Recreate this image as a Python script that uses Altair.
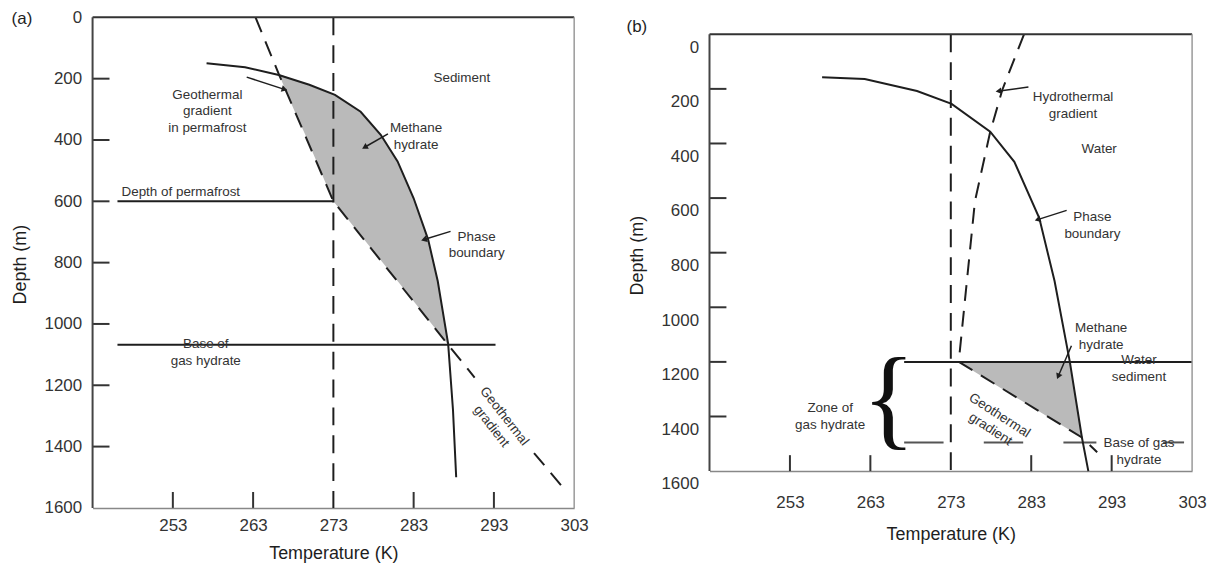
import math
import altair as alt
import pandas as pd

FONT = "Liberation Sans"
INK = "#1e1e1e"
TXT = "#333333"
SHADE = "#bababa"

# ---------------- Panel (a): permafrost ----------------
a_phase_T = [257.2, 262.0, 266.2, 270.0, 273.2, 276.4, 278.9, 281.0, 283.0, 284.8, 286.0, 287.3, 287.9, 288.3]
a_phase_D = [150, 163, 188, 220, 253, 308, 383, 470, 590, 724, 860, 1065, 1280, 1500]
# geothermal gradient, broken where its label sits (segment id in a_geo_S)
a_geo_T = [263.3, 266.2, 273.0, 287.3, 290.6, 298.0, 301.5]
a_geo_D = [0, 185, 600, 1068, 1175, 1421, 1530]
a_geo_S = [0, 0, 0, 0, 0, 1, 1]
a_shade_D = [185, 253, 308, 383, 470, 600, 724, 860, 1068]
a_shade_L = [266.2, 267.3, 268.2, 269.5, 270.9, 273.0, 276.8, 281.0, 287.3]
a_shade_R = [266.2, 273.2, 276.4, 278.9, 281.0, 283.1, 284.8, 286.0, 287.3]
a_hlines_D = [600, 1068]
a_hlines_T1 = [246.1, 246.1]
a_hlines_T2 = [273.0, 293.2]
a_text = [
    (257.3, 253, "Geothermal\ngradient\nin permafrost"),
    (289.0, 198, "Sediment"),
    (283.3, 362, "Methane\nhydrate"),
    (290.85, 716, "Phase\nboundary"),
    (257.1, 1066, "Base of\ngas hydrate"),
]
a_text_left = [(246.6, 571, "Depth of permafrost")]
a_text_rot = [(294.3, 1301, "Geothermal\ngradient")]
a_arrow_tail_T = [262.2, 279.8, 287.6]
a_arrow_tail_D = [195, 380, 698]
a_arrow_head_T = [266.8, 277.0, 284.4]
a_arrow_head_D = [234, 422, 724]

# ---------------- Panel (b): marine ----------------
b_phase_T = [257.0, 262.3, 268.8, 273.1, 277.9, 280.9, 284.0, 285.9, 287.8, 289.3, 290.1]
b_phase_D = [157, 164, 208, 255, 357, 467, 673, 904, 1200, 1477, 1600]
b_hyd_T = [282.1, 279.4, 277.9, 276.0, 275.0, 274.0]
b_hyd_D = [0, 204, 357, 612, 904, 1196]
b_geo_T = [274.0, 289.3, 291.2]
b_geo_D = [1200, 1477, 1531]
b_shade_D = [1200, 1340, 1477]
b_shade_L = [274.0, 281.65, 289.3]
b_shade_R = [287.8, 288.55, 289.3]
b_seafloor = (1200, 267.2, 303.0)
# base of gas hydrate: long dashes (start, end temperatures)
b_base_D = 1495
b_base_T1 = [267.2, 277.1, 287.0, 299.4]
b_base_T2 = [272.1, 282.0, 291.1, 302.0]
b_text = [
    (288.2, 231, "Hydrothermal\ngradient"),
    (291.45, 419, "Water"),
    (290.6, 671, "Phase\nboundary"),
    (291.7, 1077, "Methane\nhydrate"),
    (296.4, 1194, "Water\nsediment"),
    (296.4, 1498, "Base of gas\nhydrate"),
    (258.0, 1370, "Zone of\ngas hydrate"),
]
b_text_rot = [(279.05, 1396, "Geothermal\ngradient")]
b_arrow_tail_T = [282.65, 287.4, 288.0]
b_arrow_tail_D = [193, 645, 1141]
b_arrow_head_T = [279.05, 283.9, 286.4]
b_arrow_head_D = [208, 678, 1250]
b_brace = (265.3, 1345)

x_ticks = [253, 263, 283, 293]
x_labels = [253, 263, 273, 283, 293, 303]
y_ticks = [200, 400, 600, 800, 1000, 1200, 1400]
y_labels = [0, 200, 400, 600, 800, 1000, 1200, 1400, 1600]
T_DOMAIN = [243, 303]


def make_panel(W, H, top, d_min, xlab_pad, xtitle_pad, ylab_offset, title_y, panel_label, lab_xy,
               phase=None, geo=None, hyd=None, shade=None, rules=None, dash_segs=None,
               texts=None, texts_left=None, texts_rot=None, rot_angle=0,
               arrows=None, brace=None):
    d_dom = [d_min, 1600]
    xs = alt.Scale(domain=T_DOMAIN, nice=False, zero=False)
    ys = alt.Scale(domain=d_dom, reverse=True, nice=False, zero=False)
    ax = alt.Axis(values=x_labels, format="d", ticks=False, tickSize=0, labelPadding=xlab_pad,
                  labelFontSize=17, labelFont=FONT, labelColor=TXT, labelFlush=False, labelOverlap=False,
                  title="Temperature (K)", titleFont=FONT, titleFontSize=18, titleFontWeight="normal",
                  titleColor=INK, titlePadding=xtitle_pad, domainColor="#888888", domainWidth=1.5, grid=False)
    ay = alt.Axis(values=y_labels, format="d", ticks=False, tickSize=0, labelPadding=11,
                  labelOffset=ylab_offset, domain=False, titleY=title_y,
                  labelFontSize=17, labelFont=FONT, labelColor=TXT, labelFlush=False, labelOverlap=False,
                  title="Depth (m)", titleFont=FONT, titleFontSize=18, titleFontWeight="normal",
                  titleColor=INK, titlePadding=15, grid=False)

    def X(f):
        return alt.X(f, type="quantitative", scale=xs, axis=ax)

    def Y(f):
        return alt.Y(f, type="quantitative", scale=ys, axis=ay)

    one = pd.DataFrame({"k": [0]})
    layers = []
    if shade:
        D, L, R = shade
        df = pd.DataFrame({"D": D, "L": L, "R": R})
        layers.append(alt.Chart(df).mark_area(orient="horizontal", color=SHADE, opacity=1)
                      .encode(y=Y("D"), x=X("L"), x2="R"))
    layers.append(alt.Chart(pd.DataFrame({"T": [273], "D0": [0], "D1": [1600]}))
                  .mark_rule(color=INK, strokeWidth=2, strokeDash=[18, 10])
                  .encode(x=X("T"), y=Y("D0"), y2="D1"))
    if rules:
        D, T1, T2 = rules
        df = pd.DataFrame({"D": D, "T1": T1, "T2": T2})
        layers.append(alt.Chart(df).mark_rule(color=INK, strokeWidth=2)
                      .encode(y=Y("D"), x=X("T1"), x2="T2"))
    if dash_segs:
        D, T1, T2 = dash_segs
        df = pd.DataFrame({"D": [D] * len(T1), "T1": T1, "T2": T2})
        layers.append(alt.Chart(df).mark_rule(color="#555555", strokeWidth=2)
                      .encode(y=Y("D"), x=X("T1"), x2="T2"))

    def line(T, D, dash=None, seg=None):
        df = pd.DataFrame({"T": T, "D": D, "i": list(range(len(T))),
                           "s": seg if seg is not None else [0] * len(T)})
        kw = {"strokeDash": dash} if dash else {}
        return alt.Chart(df).mark_line(color=INK, strokeWidth=2, **kw).encode(
            x=X("T"), y=Y("D"), order=alt.Order("i:Q"), detail="s:N")

    if geo:
        layers.append(line(geo[0], geo[1], dash=[16, 10], seg=geo[2] if len(geo) > 2 else None))
    if hyd:
        layers.append(line(hyd[0], hyd[1], dash=[16, 10]))
    if phase:
        layers.append(line(phase[0], phase[1]))

    if arrows:
        tT, tD, hT, hD = arrows
        rows = []
        heads = []
        for k in range(len(tT)):
            rows.append({"id": k, "T": tT[k], "D": tD[k], "i": 0})
            rows.append({"id": k, "T": hT[k], "D": hD[k], "i": 1})
            dx = (hT[k] - tT[k]) * W / (T_DOMAIN[1] - T_DOMAIN[0])
            dy = (hD[k] - tD[k]) * H / (d_dom[1] - d_dom[0])
            ang = math.degrees(math.atan2(dx, -dy)) % 360
            heads.append({"T": hT[k], "D": hD[k], "a": ang})
        layers.append(alt.Chart(pd.DataFrame(rows)).mark_line(color=INK, strokeWidth=1.5)
                      .encode(x=X("T"), y=Y("D"), detail="id:N", order=alt.Order("i:Q")))
        layers.append(alt.Chart(pd.DataFrame(heads)).mark_point(shape="triangle", filled=True, color=INK,
                                                                 size=45, opacity=1)
                      .encode(x=X("T"), y=Y("D"), angle=alt.Angle("a:Q", scale=None)))

    def text_layer(items, align="center", angle=0):
        df = pd.DataFrame(items, columns=["T", "D", "label"])
        kw = {"angle": angle} if angle else {}
        return alt.Chart(df).mark_text(font=FONT, fontSize=13.5, color=TXT, lineBreak="\n", lineHeight=16.5,
                                       align=align, baseline="middle", **kw).encode(
            x=X("T"), y=Y("D"), text="label:N")

    if texts:
        layers.append(text_layer(texts))
    if texts_left:
        layers.append(text_layer(texts_left, align="left"))
    if texts_rot:
        layers.append(text_layer(texts_rot, angle=rot_angle))
    if brace:
        df = pd.DataFrame({"T": [brace[0]], "D": [brace[1]], "label": ["{"]})
        layers.append(alt.Chart(df).mark_text(font="Liberation Serif", fontSize=112, color="#111111",
                                              baseline="middle", align="center")
                      .encode(x=X("T"), y=Y("D"), text="label:N"))

    # inward ticks
    layers.append(alt.Chart(pd.DataFrame({"D": y_ticks})).mark_rule(color="#333333", strokeWidth=2)
                  .encode(y=Y("D"), x=alt.value(0), x2=alt.value(17)))
    layers.append(alt.Chart(pd.DataFrame({"T": x_ticks})).mark_rule(color="#333333", strokeWidth=2)
                  .encode(x=X("T"), y=alt.value(H), y2=alt.value(H - 16)))
    # frame: top (dark), right (grey), left (dark)
    layers.append(alt.Chart(one).mark_rule(color="#333333", strokeWidth=2)
                  .encode(x=alt.value(0), x2=alt.value(W), y=alt.value(top)))
    layers.append(alt.Chart(one).mark_rule(color="#999999", strokeWidth=1.5)
                  .encode(x=alt.value(W), y=alt.value(top), y2=alt.value(H)))
    layers.append(alt.Chart(one).mark_rule(color="#444444", strokeWidth=2)
                  .encode(x=alt.value(0), y=alt.value(top), y2=alt.value(H)))
    # panel label
    layers.append(alt.Chart(one).mark_text(font=FONT, fontSize=17, color=INK)
                  .encode(x=alt.value(lab_xy[0]), y=alt.value(lab_xy[1]), text=alt.value(panel_label)))

    return alt.layer(*layers).properties(width=W, height=H)


panel_a = make_panel(
    484, 493, top=0, d_min=0, xlab_pad=10, xtitle_pad=11, ylab_offset=0, title_y=248,
    panel_label="(a)", lab_xy=(-71, 2),
    phase=(a_phase_T, a_phase_D), geo=(a_geo_T, a_geo_D, a_geo_S),
    shade=(a_shade_D, a_shade_L, a_shade_R),
    rules=(a_hlines_D, a_hlines_T1, a_hlines_T2),
    texts=a_text, texts_left=a_text_left, texts_rot=a_text_rot, rot_angle=52,
    arrows=(a_arrow_tail_T, a_arrow_tail_D, a_arrow_head_T, a_arrow_head_D),
)

# panel (b) starts 17 px lower than (a): its scale reaches 62 m above the surface (17 px at 3.645 m/px)
panel_b = make_panel(
    485, 456, top=17, d_min=-62, xlab_pad=24, xtitle_pad=15, ylab_offset=13, title_y=239,
    panel_label="(b)", lab_xy=(-73, 10),
    phase=(b_phase_T, b_phase_D), geo=(b_geo_T, b_geo_D), hyd=(b_hyd_T, b_hyd_D),
    shade=(b_shade_D, b_shade_L, b_shade_R),
    rules=([b_seafloor[0]], [b_seafloor[1]], [b_seafloor[2]]),
    dash_segs=(b_base_D, b_base_T1, b_base_T2),
    texts=b_text, texts_rot=b_text_rot, rot_angle=33,
    arrows=(b_arrow_tail_T, b_arrow_tail_D, b_arrow_head_T, b_arrow_head_D),
    brace=b_brace,
)

chart = (
    alt.hconcat(panel_a, panel_b, spacing=37)
    .properties(padding={"left": 3, "top": -1, "right": 5, "bottom": 5}, background="white")
    .configure_view(strokeWidth=0)
)

chart.save("out.html", embed_options={"renderer": "svg", "actions": False})
